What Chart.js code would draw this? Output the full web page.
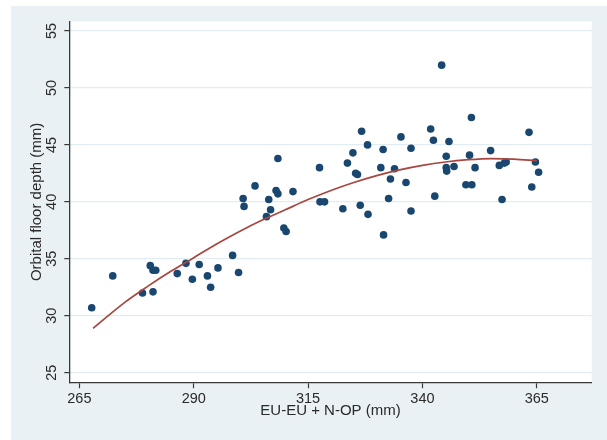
<!DOCTYPE html>
<html>
<head>
<meta charset="utf-8">
<script src="https://cdn.jsdelivr.net/npm/chart.js@4.4.1/dist/chart.umd.min.js"></script>
<style>
  html, body { margin: 0; padding: 0; background: #ffffff; }
  #wrap { position: absolute; left: 11px; top: 6px; width: 596px; height: 434px; background: #eaf1f4; }
  canvas { display: block; }
</style>
</head>
<body>
<div id="wrap"><canvas id="c" width="596" height="434"></canvas></div>
<script>
// Scatter data: EU-EU + N-OP (mm) vs Orbital floor depth (mm)
const xValues = [267.7, 272.3, 278.8, 280.5, 281.1, 281.7, 281.1, 286.4, 288.3, 289.7,
  291.2, 293.0, 293.7, 295.3, 298.5, 299.8, 300.8, 301.0, 303.4, 305.9,
  306.4, 306.8, 308.0, 308.4, 308.4, 309.7, 310.2, 311.7, 317.5, 317.6,
  318.6, 322.6, 323.6, 324.8, 325.4, 325.8, 326.4, 326.7, 328.0, 328.1,
  330.9, 331.4, 331.5, 332.6, 333.0, 333.9, 335.3, 336.4, 337.5, 337.5,
  341.8, 342.4, 342.7, 344.2, 345.2, 345.2, 345.3, 345.8, 346.9, 349.5,
  350.3, 350.7, 350.8, 351.5, 354.9, 356.8, 357.4, 357.9, 358.3, 363.3,
  363.9, 364.7, 365.4];
const yValues = [30.7, 33.5, 32.0, 34.4, 34.0, 34.0, 32.1, 33.7, 34.6, 33.2,
  34.5, 33.5, 32.5, 34.2, 35.3, 33.8, 40.3, 39.6, 41.4, 38.7,
  40.2, 39.3, 41.0, 40.7, 43.8, 37.7, 37.4, 40.9, 43.0, 40.0,
  40.0, 39.4, 43.4, 44.3, 42.5, 42.4, 39.7, 46.2, 45.0, 38.9,
  43.0, 44.6, 37.1, 40.3, 42.0, 42.9, 45.7, 41.7, 44.7, 39.2,
  46.4, 45.4, 40.5, 52.0, 44.0, 43.0, 42.7, 45.3, 43.1, 41.5,
  44.1, 47.4, 41.5, 43.0, 44.5, 43.2, 40.2, 43.4, 43.5, 46.1,
  41.3, 43.5, 42.6];

// Fitted curve
const curveX = [268, 275, 280, 285, 290, 295, 300, 305, 310, 315, 320, 325, 330, 335, 340, 345, 350, 355, 360, 365];
const curveY = [28.9, 31.2, 32.6, 33.9, 35.1, 36.3, 37.4, 38.4, 39.3, 40.2, 41.0, 41.7, 42.3, 42.8, 43.2, 43.5, 43.7, 43.8, 43.75, 43.6];

// Axis ticks
const xTicks = [265, 290, 315, 340, 365];
const yTicks = [25, 30, 35, 40, 45, 50, 55];
const xTitle = 'EU-EU + N-OP (mm)';
const yTitle = 'Orbital floor depth (mm)';

const scatterPts = xValues.map((x, i) => ({ x: x, y: yValues[i] }));
const curvePts = curveX.map((x, i) => ({ x: x, y: curveY[i] }));

const textColor = '#2a2a2a';
const axisColor = '#3a3a3a';

const plotBg = {
  id: 'plotBg',
  beforeDraw(chart) {
    const { ctx, chartArea: a } = chart;
    ctx.save();
    ctx.fillStyle = '#ffffff';
    ctx.fillRect(a.left, a.top, a.right - a.left, a.bottom - a.top);
    ctx.restore();
  },
  afterDraw(chart) {
    const ctx = chart.ctx;
    const ys = chart.scales.y;
    ctx.save();
    ctx.fillStyle = textColor;
    ctx.font = '14.5px "Liberation Sans", Arial, sans-serif';
    ctx.textAlign = 'center';
    ctx.textBaseline = 'middle';
    yTicks.forEach(v => {
      const py = ys.getPixelForValue(v);
      ctx.save();
      ctx.translate(40.7, py);
      ctx.rotate(-Math.PI / 2);
      ctx.fillText(String(v), 0, 0);
      ctx.restore();
    });
    ctx.restore();
  }
};

new Chart(document.getElementById('c'), {
  type: 'scatter',
  data: {
    datasets: [
      {
        type: 'line',
        data: curvePts,
        borderColor: '#a8463f',
        borderWidth: 1.7,
        pointRadius: 0,
        fill: false,
        cubicInterpolationMode: 'monotone',
        order: 0
      },
      {
        data: scatterPts,
        backgroundColor: '#1a476f',
        borderWidth: 0,
        pointRadius: 3.8,
        order: 1
      }
    ]
  },
  options: {
    responsive: false,
    animation: false,
    devicePixelRatio: 1,
    layout: { padding: { left: 0, right: 15.3, top: 15.5, bottom: 0 } },
    plugins: { legend: { display: false }, tooltip: { enabled: false } },
    scales: {
      x: {
        type: 'linear',
        min: 262.8,
        max: 377,
        afterBuildTicks: s => { s.ticks = xTicks.map(v => ({ value: v })); },
        afterFit: s => { s.height = 57.7; },
        grid: { drawOnChartArea: false, drawTicks: true, tickLength: 6, tickColor: axisColor, tickWidth: 1.2 },
        border: { display: true, color: axisColor, width: 1.3 },
        ticks: { color: textColor, padding: 2, maxRotation: 0, font: { family: '"Liberation Sans", Arial, sans-serif', size: 14.5 } },
        title: { display: true, text: xTitle, color: textColor, padding: { top: 0, bottom: 20 }, font: { family: '"Liberation Sans", Arial, sans-serif', size: 15 } }
      },
      y: {
        type: 'linear',
        min: 24.16,
        max: 55.83,
        afterBuildTicks: s => { s.ticks = yTicks.map(v => ({ value: v })); },
        afterFit: s => { s.width = 58.3; },
        grid: { color: '#e2edf2', lineWidth: 1.2, drawTicks: true, tickLength: 5, tickColor: axisColor, tickWidth: 1.2 },
        border: { display: true, color: axisColor, width: 1.3 },
        ticks: { display: false },
        title: { display: true, text: yTitle, color: textColor, padding: { top: 16.7, bottom: 0 }, font: { family: '"Liberation Sans", Arial, sans-serif', size: 15 } }
      }
    }
  },
  plugins: [plotBg]
});
</script>
</body>
</html>
